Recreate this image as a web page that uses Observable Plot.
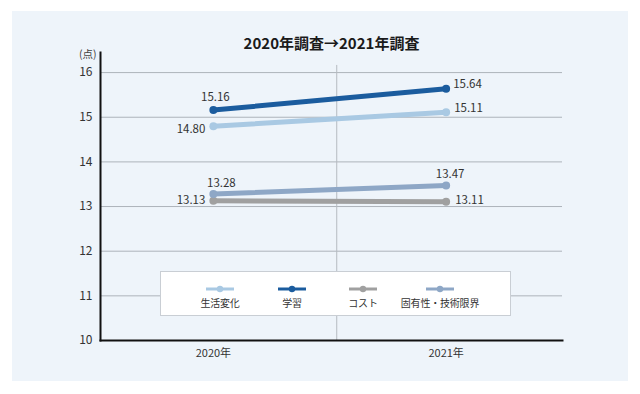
<!DOCTYPE html>
<html lang="ja">
<head>
<meta charset="utf-8">
<script src="https://cdn.jsdelivr.net/npm/d3@7"></script>
<script src="https://cdn.jsdelivr.net/npm/@observablehq/plot@0.6"></script>
<style>
  html, body { margin: 0; padding: 0; background: #fff; }
  body { width: 640px; height: 394px; position: relative; overflow: hidden;
         font-family: "Noto Sans CJK JP", "Noto Sans", sans-serif; }
  #panel { position: absolute; left: 12px; top: 11px; width: 616px; height: 370px; background: #eef4fa; }
  #chart { position: absolute; left: 0; top: 0; }
  #legend { position: absolute; left: 160px; top: 271px; width: 351px; height: 45px;
            background: #fff; border: 1px solid #c9ced4; box-sizing: border-box; }
  .item { position: absolute; top: 0; width: 100px; height: 45px; text-align: center; }
  .item svg { position: absolute; left: 36px; top: 12px; }
  .item span { position: absolute; left: 0; width: 100px; top: 23px; font-size: 10px; letter-spacing: -0.2px; color: #333; line-height: 16px; white-space: nowrap; }
</style>
</head>
<body>
<div id="panel"></div>
<div id="chart"></div>
<div id="legend"></div>
<script>
// ---- data ----
const years = [2020, 2021];
const series = ["生活変化", "学習", "コスト", "固有性・技術限界"];
const values2020 = [14.80, 15.16, 13.13, 13.28];
const values2021 = [15.11, 15.64, 13.11, 13.47];
const yTicks = [10, 11, 12, 13, 14, 15, 16];
const title = "2020年調査→2021年調査";
const unitLabel = "(点)";
const yearSuffix = "年";

// ---- styles ----
const colors = ["#a9c9e3", "#1b5c9e", "#a0a0a0", "#8ea7c6"];
const dividerYear = 2020.53;
// label placement per series: [2020 placement, 2021 placement]
const placement = {
  "生活変化":       [{anchor: "end", dx: -8, dy: 3},   {anchor: "start", dx: 8, dy: -4}],
  "学習":           [{anchor: "middle", dx: 2, dy: -13}, {anchor: "start", dx: 7, dy: -4}],
  "コスト":         [{anchor: "end", dx: -8, dy: 0},   {anchor: "start", dx: 9, dy: -1}],
  "固有性・技術限界": [{anchor: "middle", dx: 8, dy: -11}, {anchor: "middle", dx: 4, dy: -11}]
};

const rows = [];
series.forEach((s, i) => {
  rows.push({series: s, year: years[0], value: values2020[i]});
  rows.push({series: s, year: years[1], value: values2021[i]});
});
const fmt = d3.format(".2f");

const labelMarks = rows.map(r => {
  const p = placement[r.series][years.indexOf(r.year)];
  return Plot.text([r], {
    x: "year", y: "value", text: d => fmt(d.value),
    textAnchor: p.anchor, dx: p.dx, dy: p.dy,
    fontSize: 11.5, fill: "#333"
  });
});

const chart = Plot.plot({
  width: 640,
  height: 394,
  marginLeft: 100,
  marginRight: 78,
  marginTop: 52,
  marginBottom: 54,
  style: {background: "transparent", color: "#333", fontFamily: "'Noto Sans CJK JP', 'Noto Sans', sans-serif", overflow: "visible"},
  x: {domain: [2019.515, 2021.5], axis: null},
  y: {domain: [10, 16.45], axis: null},
  color: {domain: series, range: colors},
  marks: [
    Plot.gridY(yTicks.filter(d => d > 10), {stroke: "#adb3ba", strokeOpacity: 1, strokeWidth: 1}),
    Plot.ruleX([dividerYear], {y1: 10, y2: 16.16, stroke: "#b5bac0", strokeWidth: 1}),
    Plot.frame({anchor: "left", stroke: "#111", strokeWidth: 2}),
    Plot.frame({anchor: "bottom", stroke: "#111", strokeWidth: 2}),
    Plot.axisY(yTicks, {anchor: "left", tickSize: 0, tickPadding: 8, fontSize: 12, label: null}),
    Plot.axisX(years, {anchor: "bottom", tickSize: 0, tickPadding: 9, fontSize: 11, label: null, tickFormat: d => `${d}${yearSuffix}`}),
    Plot.text([unitLabel], {text: d => d, frameAnchor: "top-left", lineAnchor: "middle", textAnchor: "end", dx: -4, dy: 2, fontSize: 10.5, fill: "#444"}),
    Plot.text([title], {text: d => d, frameAnchor: "top", lineAnchor: "middle", dy: -8, fontSize: 15, fontWeight: "bold", fill: "#1a1a1a"}),
    Plot.line(rows, {x: "year", y: "value", z: "series", stroke: "series", strokeWidth: 5, strokeLinecap: "round"}),
    Plot.dot(rows, {x: "year", y: "value", fill: "series", r: 4}),
    ...labelMarks
  ]
});
document.getElementById("chart").appendChild(chart);

// ---- legend ----
const legendCenters = [59, 131, 202, 279];
const legend = d3.select("#legend");
series.forEach((s, i) => {
  const item = legend.append("div").attr("class", "item").style("left", `${legendCenters[i] - 50}px`);
  const svg = item.append("svg").attr("width", 28).attr("height", 10);
  svg.append("line").attr("x1", 0).attr("x2", 28).attr("y1", 5).attr("y2", 5)
     .attr("stroke", colors[i]).attr("stroke-width", 3);
  svg.append("circle").attr("cx", 14).attr("cy", 5).attr("r", 3.2).attr("fill", colors[i]);
  item.append("span").text(s);
});
</script>
</body>
</html>
